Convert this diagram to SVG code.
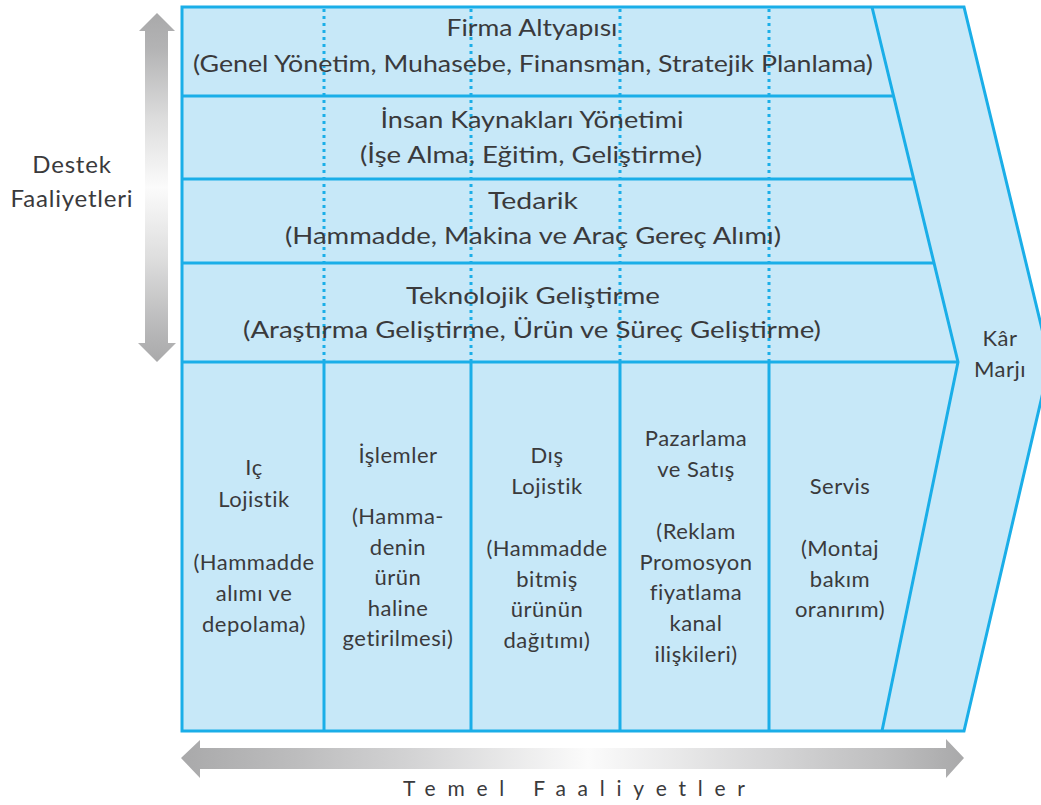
<svg xmlns="http://www.w3.org/2000/svg" width="1041" height="805" viewBox="0 0 1041 805">
<defs>
<linearGradient id="gv" x1="0" y1="13" x2="0" y2="362" gradientUnits="userSpaceOnUse">
<stop offset="0" stop-color="#a9a9aa"/>
<stop offset="0.1" stop-color="#b3b3b4"/>
<stop offset="0.3" stop-color="#dcdcdc"/>
<stop offset="0.5" stop-color="#fbfbfb"/>
<stop offset="0.7" stop-color="#dedede"/>
<stop offset="0.9" stop-color="#b9b9ba"/>
<stop offset="1" stop-color="#a9a9aa"/>
</linearGradient>
<linearGradient id="gh" x1="181" y1="0" x2="964" y2="0" gradientUnits="userSpaceOnUse">
<stop offset="0" stop-color="#a9a9aa"/>
<stop offset="0.15" stop-color="#bdbdbe"/>
<stop offset="0.3" stop-color="#d4d4d5"/>
<stop offset="0.52" stop-color="#fbfbfb"/>
<stop offset="0.75" stop-color="#d6d6d7"/>
<stop offset="0.9" stop-color="#bebebf"/>
<stop offset="1" stop-color="#a9a9aa"/>
</linearGradient>
</defs>
<style>
.shape{fill:#c7e8f8;stroke:#1aaee8;stroke-width:3;stroke-linejoin:miter}
.ln{stroke:#1aaee8;stroke-width:3;fill:none}
.dot{stroke:#1aaee8;stroke-width:3;fill:none;stroke-dasharray:3 4}
text{font-family:Lato,"Open Sans","DejaVu Sans",sans-serif;fill:#3a3a3c;text-anchor:middle}
.t1{font-size:23px}
.t2{font-size:22px;letter-spacing:0.5px}
.t3{font-size:24px;letter-spacing:0.8px}
</style>
<rect width="1041" height="805" fill="#ffffff"/>

<g id="arrows">
<polygon points="157,13 175,31 168,31 168,343 176,343 157,362 138,343 145,343 145,31 139,31" fill="url(#gv)"/>
<polygon points="181,758 200,740 200,748 946,748 946,739 964,758 946,778 946,769 200,769 200,778" fill="url(#gh)"/>
</g>

<g id="chain">
<polygon class="shape" points="182,7 964,7 1050,362 964,731 182,731"/>
</g>

<g id="connectors">
<polyline class="ln" points="872,7 958,362 882,731"/>
<line class="ln" x1="182" y1="96" x2="893.5" y2="96"/>
<line class="ln" x1="182" y1="179" x2="913.5" y2="179"/>
<line class="ln" x1="182" y1="263" x2="934" y2="263"/>
<line class="ln" x1="182" y1="362" x2="958" y2="362"/>
<line class="dot" x1="324" y1="9" x2="324" y2="361"/>
<line class="dot" x1="471" y1="9" x2="471" y2="361"/>
<line class="dot" x1="620" y1="9" x2="620" y2="361"/>
<line class="dot" x1="769" y1="9" x2="769" y2="361"/>
<line class="ln" x1="324" y1="362" x2="324" y2="731"/>
<line class="ln" x1="471" y1="362" x2="471" y2="731"/>
<line class="ln" x1="620" y1="362" x2="620" y2="731"/>
<line class="ln" x1="769" y1="362" x2="769" y2="731"/>
</g>

<g id="firma">
<text class="t1" x="532" y="36" textLength="171" lengthAdjust="spacingAndGlyphs">Firma Altyapısı</text>
<text class="t1" x="533" y="72" textLength="680" lengthAdjust="spacingAndGlyphs">(Genel Yönetim, Muhasebe, Finansman, Stratejik Planlama)</text>
</g>
<g id="insan">
<text class="t1" x="532" y="128" textLength="303" lengthAdjust="spacingAndGlyphs">İnsan Kaynakları Yönetimi</text>
<text class="t1" x="531" y="163" textLength="342" lengthAdjust="spacingAndGlyphs">(İşe Alma, Eğitim, Geliştirme)</text>
</g>
<g id="tedarik">
<text class="t1" x="533" y="209" textLength="90" lengthAdjust="spacingAndGlyphs">Tedarik</text>
<text class="t1" x="533" y="244" textLength="496" lengthAdjust="spacingAndGlyphs">(Hammadde, Makina ve Araç Gereç Alımı)</text>
</g>
<g id="teknoloji">
<text class="t1" x="533" y="304" textLength="254" lengthAdjust="spacingAndGlyphs">Teknolojik Geliştirme</text>
<text class="t1" x="532" y="338" textLength="578" lengthAdjust="spacingAndGlyphs">(Araştırma Geliştirme, Ürün ve Süreç Geliştirme)</text>
</g>

<g id="ic-lojistik">
<text class="t2" x="254" y="475">Iç</text>
<text class="t2" x="254" y="507">Lojistik</text>
<text class="t2" x="254" y="570">(Hammadde</text>
<text class="t2" x="254" y="601">alımı ve</text>
<text class="t2" x="254" y="632">depolama)</text>
</g>
<g id="islemler">
<text class="t2" x="398" y="463">İşlemler</text>
<text class="t2" x="398" y="524">(Hamma-</text>
<text class="t2" x="398" y="555">denin</text>
<text class="t2" x="398" y="585">ürün</text>
<text class="t2" x="398" y="616">haline</text>
<text class="t2" x="398" y="646">getirilmesi)</text>
</g>
<g id="dis-lojistik">
<text class="t2" x="547" y="463">Dış</text>
<text class="t2" x="547" y="494">Lojistik</text>
<text class="t2" x="547" y="556">(Hammadde</text>
<text class="t2" x="547" y="587">bitmiş</text>
<text class="t2" x="547" y="617">ürünün</text>
<text class="t2" x="547" y="648">dağıtımı)</text>
</g>
<g id="pazarlama">
<text class="t2" x="696" y="446">Pazarlama</text>
<text class="t2" x="696" y="477">ve Satış</text>
<text class="t2" x="696" y="539">(Reklam</text>
<text class="t2" x="696" y="570">Promosyon</text>
<text class="t2" x="696" y="600">fiyatlama</text>
<text class="t2" x="696" y="631">kanal</text>
<text class="t2" x="696" y="662">ilişkileri)</text>
</g>
<g id="servis">
<text class="t2" x="840" y="494">Servis</text>
<text class="t2" x="840" y="556">(Montaj</text>
<text class="t2" x="840" y="587">bakım</text>
<text class="t2" x="840" y="617">oranırım)</text>
</g>
<g id="kar-marji">
<text class="t2" x="1000" y="346">Kâr</text>
<text class="t2" x="1000" y="377">Marjı</text>
</g>
<g id="destek">
<text class="t3" x="72" y="173">Destek</text>
<text class="t3" x="72" y="207">Faaliyetleri</text>
</g>
<g id="temel">
<text x="574" y="796" style="font-size:21px" textLength="342" lengthAdjust="spacing">Temel Faaliyetler</text>
</g>
</svg>
